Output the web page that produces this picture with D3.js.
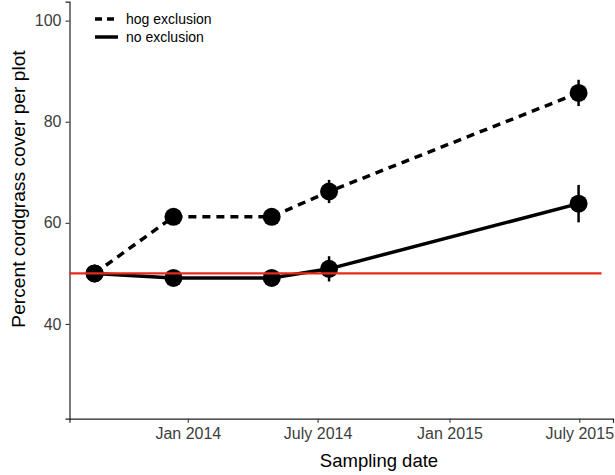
<meta charset='utf-8'>
<script src="https://d3js.org/d3.v7.min.js"></script>
<body style="margin:0;background:#fff"></body>
<script>

// DATA
var dates = ['2013-08-24', '2013-12-12', '2014-04-28', '2014-07-17', '2015-06-30'];
var hogMean = [50, 61.2, 61.2, 66.2, 85.7];
var hogErr = [0.8, 0.8, 0.8, 2.3, 2.6];
var noMean = [50, 49.1, 49.1, 50.9, 63.8];
var noErr = [0.8, 0.8, 0.8, 2.5, 3.7];
var seriesNames = ['hog exclusion', 'no exclusion'];
var xTicks = ['2014-01-01', '2014-07-01', '2015-01-01', '2015-07-01'];
var xTickLabels = ['Jan 2014', 'July 2014', 'Jan 2015', 'July 2015'];
var yTicks = [40, 60, 80, 100];
var refValue = 50;
var refEnd = '2015-08-01';

// INITIAL SETTINGS
var ww = 615;
var wh = 475;
var pLeft = 69.5, pRight = 613, pTop = 1.7, pBottom = 418.7;
var red = '#e8291c';
var font = '"Liberation Sans", Arial, sans-serif';
var parse = d3.utcParse('%Y-%m-%d');

var svg = d3.select('body').append('svg')
    .attr('width', ww)
    .attr('height', wh);

var x = d3.scaleUtc()
    .domain([parse('2013-07-20'), parse('2015-08-17')])
    .range([pLeft, pRight]);
var y = d3.scaleLinear()
    .domain([21.25, 103.75])
    .range([pBottom, pTop]);

function rows(mean, err) {
    return dates.map(function (d, i) {
        return { date: parse(d), v: mean[i], e: err[i] };
    });
}
var hog = rows(hogMean, hogErr);
var noex = rows(noMean, noErr);

// AXES
var xAxis = svg.append('g')
    .attr('transform', 'translate(0,' + pBottom + ')')
    .call(d3.axisBottom(x)
        .tickValues(xTicks.map(parse))
        .tickFormat(function (d, i) { return xTickLabels[i]; })
        .tickSizeOuter(0)
        .tickSize(4)
        .tickPadding(5));
var yAxis = svg.append('g')
    .attr('transform', 'translate(' + pLeft + ',0)')
    .call(d3.axisLeft(y)
        .tickValues(yTicks)
        .tickSizeOuter(0)
        .tickSize(4)
        .tickPadding(4));
[xAxis, yAxis].forEach(function (g) {
    g.select('.domain').attr('stroke', '#222').attr('stroke-width', 1.2);
    g.selectAll('.tick line').attr('stroke', '#333').attr('stroke-width', 1.1);
    g.selectAll('.tick text')
        .attr('fill', '#3d3d3d')
        .style('font-family', font)
        .style('font-size', '16px');
});

svg.append('text')
    .attr('x', 379)
    .attr('y', 467)
    .attr('text-anchor', 'middle')
    .style('font-family', font)
    .style('font-size', '18.5px')
    .text('Sampling date');
svg.append('text')
    .attr('transform', 'translate(24.5,189) rotate(-90)')
    .attr('text-anchor', 'middle')
    .style('font-family', font)
    .style('font-size', '19.2px')
    .text('Percent cordgrass cover per plot');

// LINES, ERROR BARS, POINTS
var line = d3.line()
    .x(function (d) { return x(d.date); })
    .y(function (d) { return y(d.v); });

svg.append('path')
    .datum(noex)
    .attr('d', line)
    .attr('fill', 'none')
    .attr('stroke', '#000')
    .attr('stroke-width', 3.5);
svg.append('path')
    .datum(hog)
    .attr('d', line)
    .attr('fill', 'none')
    .attr('stroke', '#000')
    .attr('stroke-width', 3.5)
    .attr('stroke-dasharray', '8,6');

[hog, noex].forEach(function (s) {
    svg.append('g').selectAll('line')
        .data(s)
        .enter().append('line')
        .attr('x1', function (d) { return x(d.date); })
        .attr('x2', function (d) { return x(d.date); })
        .attr('y1', function (d) { return y(d.v - d.e); })
        .attr('y2', function (d) { return y(d.v + d.e); })
        .attr('stroke', '#000')
        .attr('stroke-width', 2.5);
    svg.append('g').selectAll('circle')
        .data(s)
        .enter().append('circle')
        .attr('cx', function (d) { return x(d.date); })
        .attr('cy', function (d) { return y(d.v); })
        .attr('r', 9)
        .attr('fill', '#000');
});

// REFERENCE LINE
svg.append('line')
    .attr('x1', pLeft)
    .attr('x2', x(parse(refEnd)))
    .attr('y1', y(refValue))
    .attr('y2', y(refValue))
    .attr('stroke', red)
    .attr('stroke-width', 2.2);

// LEGEND
var legend = svg.append('g').attr('transform', 'translate(95,19)');
seriesNames.forEach(function (name, i) {
    legend.append('line')
        .attr('x1', 0)
        .attr('x2', i == 0 ? 21 : 23)
        .attr('y1', i * 18)
        .attr('y2', i * 18)
        .attr('stroke', '#000')
        .attr('stroke-width', 3.5)
        .attr('stroke-dasharray', i == 0 ? '7,5' : null);
    legend.append('text')
        .attr('x', 31)
        .attr('y', i * 18 + 5)
        .style('font-family', font)
        .style('font-size', '14px')
        .text(name);
});

</script>
